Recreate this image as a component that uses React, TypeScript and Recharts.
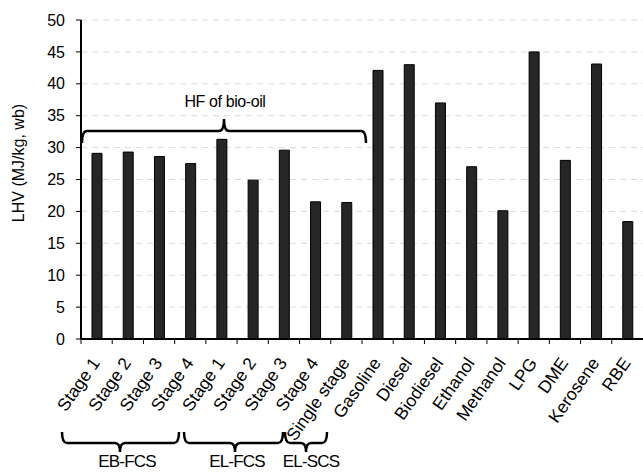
import React from "react";
import { BarChart, Bar, XAxis, YAxis, CartesianGrid } from "recharts";

const categories = [
  "Stage 1", "Stage 2", "Stage 3", "Stage 4",
  "Stage 1", "Stage 2", "Stage 3", "Stage 4",
  "Single stage",
  "Gasoline", "Diesel", "Biodiesel", "Ethanol", "Methanol",
  "LPG", "DME", "Kerosene", "RBE",
];
const lhv = [29.1, 29.3, 28.6, 27.5, 31.3, 24.9, 29.6, 21.5, 21.4, 42.1, 43.0, 37.0, 27.0, 20.1, 45.0, 28.0, 43.1, 18.4];
const yTicks = [0, 5, 10, 15, 20, 25, 30, 35, 40, 45, 50];

const W = 643;
const H = 472;
const PLOT_LEFT = 81;
const PLOT_TOP = 20;
const PLOT_BOTTOM = 339;
const BAND = (W - PLOT_LEFT) / categories.length;
const FONT = "'Liberation Sans', Arial, sans-serif";

const data = categories.map((name, i) => ({ name, lhv: lhv[i] }));

function CategoryTick(props: any) {
  const { x, y, payload } = props;
  const bx = x - BAND / 2;
  const tx = x + 4;
  const ty = y + 24;
  return (
    <g>
      <line x1={bx} x2={bx} y1={y} y2={y + 5} stroke="#000" strokeWidth={1} />
      <g transform={`translate(${tx}, ${ty}) rotate(-55)`}>
        <text x={0} y={0} textAnchor="end" fontSize={17.5} fontFamily={FONT} fill="#000">
          {payload.value}
        </text>
      </g>
    </g>
  );
}

// curly brace: straight ends at yEnd, long line at yLine, centre tip at yTip
function bracePath(x1: number, x2: number, c: number, yEnd: number, yLine: number, yTip: number) {
  const r = 5;
  return [
    `M ${x1} ${yEnd}`,
    `Q ${x1} ${yLine} ${x1 + r} ${yLine}`,
    `L ${c - r} ${yLine}`,
    `Q ${c} ${yLine} ${c} ${yTip}`,
    `Q ${c} ${yLine} ${c + r} ${yLine}`,
    `L ${x2 - r} ${yLine}`,
    `Q ${x2} ${yLine} ${x2} ${yEnd}`,
  ].join(" ");
}

export default function App() {
  return (
    <div style={{ position: "absolute", left: 0, top: 0, width: W, height: H, background: "#fff" }}>
      <BarChart
        width={W}
        height={H}
        data={data}
        margin={{ top: PLOT_TOP, right: 0, left: 0, bottom: 0 }}
        barCategoryGap={0}
      >
        <CartesianGrid vertical={false} stroke="#dcdcdc" strokeDasharray="6 5" />
        <XAxis
          dataKey="name"
          height={H - PLOT_BOTTOM}
          interval={0}
          tickLine={false}
          tickSize={0}
          tickMargin={0}
          axisLine={{ stroke: "#000", strokeWidth: 2 }}
          tick={<CategoryTick />}
        />
        <YAxis
          width={PLOT_LEFT}
          domain={[0, 50]}
          ticks={yTicks}
          interval={0}
          tickSize={5}
          tickMargin={11}
          tickLine={{ stroke: "#000" }}
          axisLine={{ stroke: "#000", strokeWidth: 2 }}
          tick={{ fill: "#000", fontSize: 16, fontFamily: FONT }}
        />
        <Bar dataKey="lhv" fill="#262626" stroke="#000" strokeWidth={1} barSize={10} isAnimationActive={false} />
      </BarChart>
      <svg
        width={W}
        height={H}
        style={{ position: "absolute", left: 0, top: 0, pointerEvents: "none" }}
        fontFamily={FONT}
      >
        <text transform="translate(24, 163) rotate(-90)" textAnchor="middle" fontSize={16} fill="#000">
          LHV (MJ/kg, wb)
        </text>
        <path d={bracePath(82, 366, 224, 143, 131, 119)} fill="none" stroke="#000" strokeWidth={2.5} />
        <text x={225} y={107} textAnchor="middle" fontSize={16} fill="#000" letterSpacing={-0.4}>
          HF of bio-oil
        </text>
        <path d={bracePath(62, 179, 120, 432, 443, 452)} fill="none" stroke="#000" strokeWidth={2.5} />
        <path d={bracePath(184, 283, 235, 432, 443, 452)} fill="none" stroke="#000" strokeWidth={2.5} />
        <path d={bracePath(285, 327, 306, 432, 443, 452)} fill="none" stroke="#000" strokeWidth={2.5} />
        <text x={127} y={467} textAnchor="middle" fontSize={17} fill="#000" letterSpacing={-0.8}>EB-FCS</text>
        <text x={237} y={467} textAnchor="middle" fontSize={17} fill="#000" letterSpacing={-0.8}>EL-FCS</text>
        <text x={311} y={467} textAnchor="middle" fontSize={17} fill="#000" letterSpacing={-0.8}>EL-SCS</text>
      </svg>
    </div>
  );
}
